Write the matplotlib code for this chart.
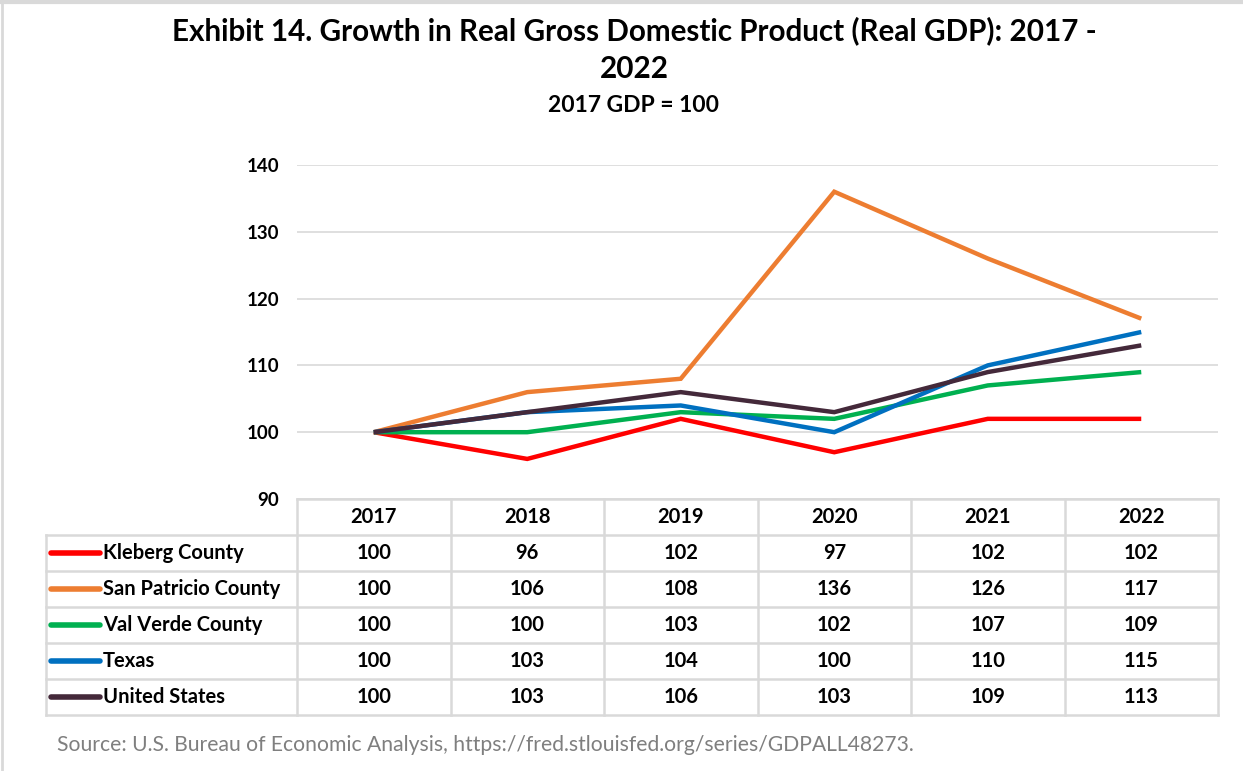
import matplotlib
matplotlib.use("Agg")
import matplotlib.pyplot as plt
import numpy as np

plt.rcParams['font.family'] = ['Lato', 'DejaVu Sans']

years = ["2017", "2018", "2019", "2020", "2021", "2022"]
series_names = ["Kleberg County", "San Patricio County", "Val Verde County", "Texas", "United States"]
kleberg = [100, 96, 102, 97, 102, 102]
san_patricio = [100, 106, 108, 136, 126, 117]
val_verde = [100, 100, 103, 102, 107, 109]
texas = [100, 103, 104, 100, 110, 115]
united_states = [100, 103, 106, 103, 109, 113]
all_values = [kleberg, san_patricio, val_verde, texas, united_states]
colors = ["#ff0000", "#ed7d31", "#00b050", "#0070c0", "#44293a"]
y_ticks = [90, 100, 110, 120, 130, 140]

W, H = 1243, 771
fig = plt.figure(figsize=(W / 100, H / 100), dpi=100)

def box(x0, y0, x1, y1):
    # pixel box (top-left origin) -> figure fraction rect
    return [x0 / W, 1 - y1 / H, (x1 - x0) / W, (y1 - y0) / H]

# outer frame of the picture
frame = fig.add_axes([0, 0, 1, 1])
frame.set_axis_off()
frame.plot([0, 1], [1 - 2 / H, 1 - 2 / H], color="#d9d9d9", lw=3, transform=frame.transAxes)
frame.plot([2 / W, 2 / W], [0, 1], color="#d9d9d9", lw=2, transform=frame.transAxes)

grid_c = "#d9d9d9"

# line plot
ax = fig.add_axes(box(297, 165, 1218, 499))
x = np.arange(len(years))
for vals, c in zip(all_values, colors):
    ax.plot(x, vals, color=c, lw=3.2, solid_capstyle="butt", solid_joinstyle="miter")
ax.set_xlim(-0.5, 5.5)
ax.set_ylim(90, 140)
ax.set_yticks(y_ticks)
ax.set_yticklabels([str(t) for t in y_ticks], fontsize=13.5, fontweight="bold")
ax.set_xticks([])
ax.grid(axis="y", color=grid_c, lw=1.2)
ax.tick_params(axis="y", length=0, pad=13)
for s in ax.spines.values():
    s.set_visible(False)

# data table
tax = fig.add_axes(box(46, 499, 1218, 715))
label_w = (297 - 46) / ((1218 - 297) / 6)
tax.set_xlim(-0.5 - label_w, 5.5)
tax.set_ylim(6, 0)
tax.set_axis_off()
lw = 1.8
left = -0.5 - label_w
# horizontal lines
tax.plot([-0.5, 5.5], [0, 0], color=grid_c, lw=lw, clip_on=False)
for r in range(1, 7):
    tax.plot([left, 5.5], [r, r], color=grid_c, lw=lw, clip_on=False)
# vertical lines
tax.plot([left, left], [1, 6], color=grid_c, lw=lw, clip_on=False)
for cidx in range(7):
    tax.plot([cidx - 0.5, cidx - 0.5], [0, 6], color=grid_c, lw=lw, clip_on=False)

fs = 14.5
for i, yr in enumerate(years):
    tax.text(i, 0.5, yr, ha="center", va="center", fontsize=fs, fontweight="bold")

for r, (name, vals, c) in enumerate(zip(series_names, all_values, colors)):
    yrow = r + 1.5
    tax.plot([left + 0.03, left + 0.35], [yrow, yrow], color=c, lw=4, solid_capstyle="round")
    tax.text(left + 0.37, yrow, name, ha="left", va="center", fontsize=fs, fontweight="bold")
    for i, v in enumerate(vals):
        tax.text(i, yrow, str(v), ha="center", va="center", fontsize=fs, fontweight="bold")

# titles
fig.text(634 / W, 1 - 31 / H, "Exhibit 14. Growth in Real Gross Domestic Product (Real GDP): 2017 -",
         ha="center", va="center", fontsize=21.3, fontweight="bold")
fig.text(634 / W, 1 - 69 / H, "2022", ha="center", va="center", fontsize=21.3, fontweight="bold")
fig.text(634 / W, 1 - 106 / H, "2017 GDP = 100", ha="center", va="center", fontsize=16.5, fontweight="bold")

fig.text(57 / W, 1 - 745 / H,
         "Source: U.S. Bureau of Economic Analysis, https://fred.stlouisfed.org/series/GDPALL48273.",
         ha="left", va="center", fontsize=15.2, color="#7f7f7f")

fig.savefig("out.png", dpi=100)
